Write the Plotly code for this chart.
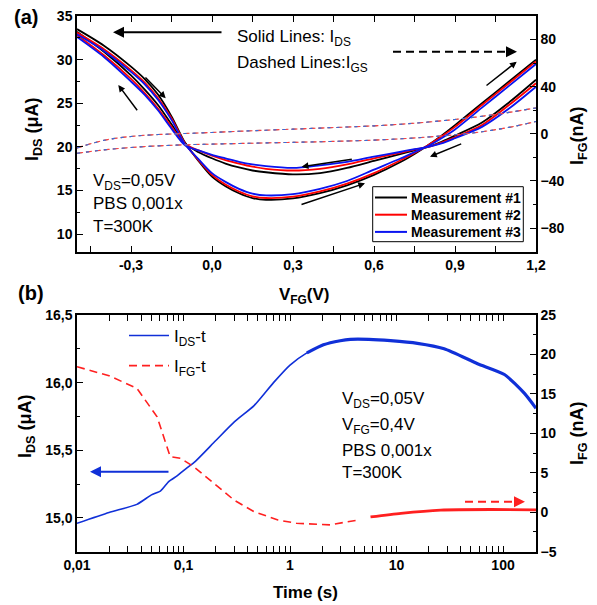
import numpy as np
import plotly.graph_objects as go

FONT = "Liberation Sans, Arial, sans-serif"
W, H = 597, 605

# ---------------- (a) transfer curves ----------------
v_fg = [-0.5, -0.4, -0.3, -0.25, -0.2, -0.15, -0.1, -0.05, 0.0, 0.05, 0.1, 0.15, 0.2,
        0.3, 0.4, 0.5, 0.6, 0.7, 0.75, 0.8, 0.85, 0.9, 1.0, 1.1, 1.2]

# I_DS (uA), forward sweep (-0.5 -> 1.2 V)
ids_fwd_m1 = [33.5, 31.6, 29.2, 27.8, 26.0, 23.5, 20.5, 18.4, 16.6, 15.5, 14.7, 14.15, 13.95,
              14.1, 14.7, 15.6, 16.8, 18.3, 19.2, 20.2, 21.3, 22.5, 25.0, 27.5, 30.0]
ids_fwd_m2 = [33.1, 31.2, 28.8, 27.4, 25.6, 23.3, 20.4, 18.5, 16.8, 15.7, 14.9, 14.35, 14.15,
              14.3, 14.9, 15.8, 17.0, 18.5, 19.3, 20.2, 21.2, 22.3, 24.8, 27.3, 29.8]
ids_fwd_m3 = [32.9, 31.0, 28.6, 27.2, 25.4, 23.1, 20.3, 18.6, 17.0, 16.0, 15.2, 14.65, 14.45,
              14.6, 15.2, 16.1, 17.4, 18.7, 19.4, 20.1, 21.0, 22.0, 24.5, 27.0, 29.5]
# I_DS (uA), backward sweep (1.2 -> -0.5 V), listed on the same V grid
ids_bwd_m1 = [33.2, 30.9, 28.2, 26.6, 24.8, 22.6, 20.4, 19.4, 18.7, 18.1, 17.65, 17.3, 17.1,
              16.85, 17.0, 17.6, 18.4, 19.2, 19.6, 20.0, 20.6, 21.3, 22.8, 25.1, 27.7]
ids_bwd_m2 = [32.8, 30.5, 27.8, 26.2, 24.4, 22.3, 20.3, 19.6, 19.0, 18.5, 18.1, 17.75, 17.5,
              17.3, 17.5, 18.0, 18.7, 19.35, 19.7, 20.0, 20.5, 21.1, 22.5, 24.8, 27.3]
ids_bwd_m3 = [32.6, 30.3, 27.5, 26.0, 24.2, 22.1, 20.2, 19.6, 19.1, 18.7, 18.3, 18.0, 17.8,
              17.6, 17.9, 18.3, 18.9, 19.45, 19.75, 20.0, 20.4, 21.0, 22.3, 24.4, 26.9]

# gate leakage I_GS (nA), two sweep branches
v_gs = [-0.5, -0.4, -0.3, -0.2, -0.1, 0.0, 0.1, 0.2, 0.3, 0.4, 0.5, 0.6, 0.7, 0.8, 0.9, 1.0, 1.1, 1.2]
igs_upper = [-12.0, -5.5, -2.2, -0.6, 0.3, 1.2, 2.2, 3.1, 4.0, 4.9, 5.8, 6.8, 8.2, 10.0, 12.2, 14.9, 18.2, 22.0]
igs_lower = [-16.5, -13.6, -11.6, -10.2, -9.3, -8.7, -8.2, -7.7, -7.2, -6.7, -6.1, -5.3, -4.2, -2.7, -0.8, 1.8, 5.5, 10.5]

meas_names = ["Measurement #1", "Measurement #2", "Measurement #3"]
meas_colors = ["#000000", "#ff0000", "#0a14f0"]

# ---------------- (b) time response ----------------
t_ids = [0.01, 0.02, 0.0365, 0.05, 0.061, 0.073, 0.087, 0.1, 0.13, 0.2, 0.3, 0.46, 0.7, 1.0,
         1.44, 2.06, 2.96, 3.68, 5.5, 8.78, 15.7, 28.0, 57.6, 103, 159, 204]
ids_t = [14.96, 15.04, 15.10, 15.17, 15.20, 15.27, 15.31, 15.35, 15.42, 15.57, 15.71, 15.83, 16.0, 16.13,
         16.22, 16.28, 16.31, 16.32, 16.32, 16.31, 16.29, 16.25, 16.14, 16.06, 15.92, 15.81]

t_ifg = [0.01, 0.02, 0.0365, 0.0565, 0.075, 0.094, 0.125, 0.193, 0.298, 0.46, 0.77, 1.15, 2.38, 4.27,
         5.7, 11, 26, 77, 204]
ifg_t = [18.45, 17.3, 15.71, 12.1, 7.04, 6.83, 5.77, 3.67, 1.55, 0.07, -0.98, -1.4, -1.6, -1.0,
         -0.6, -0.13, 0.28, 0.35, 0.3]

fig = go.Figure()

# dashed gate-current curves (right axis of panel a)
for col, dash in [("#8a8a8a", "5px,4px"), ("#ff4040", "6px,3px"), ("#3070e0", "3px,6px")]:
    for branch in (igs_upper, igs_lower):
        fig.add_trace(go.Scatter(x=v_gs, y=branch, xaxis="x", yaxis="y2", mode="lines",
                                 line=dict(color=col, width=1.1, dash=dash, shape="spline"),
                                 showlegend=False, hoverinfo="skip"))

fwd = [ids_fwd_m1, ids_fwd_m2, ids_fwd_m3]
bwd = [ids_bwd_m1, ids_bwd_m2, ids_bwd_m3]
for name, col, f, b in zip(meas_names, meas_colors, fwd, bwd):
    fig.add_trace(go.Scatter(x=v_fg, y=f, xaxis="x", yaxis="y", mode="lines", name=name,
                             legendgroup=name, showlegend=False,
                             line=dict(color=col, width=1.8, shape="spline", smoothing=0.8)))
    fig.add_trace(go.Scatter(x=v_fg[::-1], y=b[::-1], xaxis="x", yaxis="y", mode="lines",
                             legendgroup=name, showlegend=False,
                             line=dict(color=col, width=1.8, shape="spline", smoothing=0.8)))

# panel b
BLUE_B = "#1030d8"
RED_B = "#ff2020"
split_ids = 15  # from ~2 s the record is denser and reads as a heavier line
fig.add_trace(go.Scatter(x=t_ids[:split_ids + 1], y=ids_t[:split_ids + 1], xaxis="x2", yaxis="y3",
                         mode="lines", name="I<sub>DS</sub>-t", legend="legend2", legendgroup="ids",
                         line=dict(color=BLUE_B, width=1.6, shape="spline", smoothing=0.6)))
fig.add_trace(go.Scatter(x=t_ids[split_ids - 1:], y=ids_t[split_ids - 1:], xaxis="x2", yaxis="y3",
                         mode="lines", showlegend=False, legendgroup="ids",
                         line=dict(color=BLUE_B, width=3.2, shape="spline", smoothing=0.6)))
split_ifg = 14
fig.add_trace(go.Scatter(x=t_ifg[:split_ifg], y=ifg_t[:split_ifg], xaxis="x2", yaxis="y4",
                         mode="lines", name="I<sub>FG</sub>-t", legend="legend2", legendgroup="ifg",
                         line=dict(color=RED_B, width=1.6, dash="8px,5px")))
fig.add_trace(go.Scatter(x=t_ifg[split_ifg:], y=ifg_t[split_ifg:], xaxis="x2", yaxis="y4",
                         mode="lines", showlegend=False, legendgroup="ifg",
                         line=dict(color=RED_B, width=2.8, shape="spline", smoothing=0.6)))

tickfont = dict(family=FONT, size=14, color="black", weight="bold")
axis_common = dict(showline=True, linecolor="black", linewidth=1.5, ticks="inside", ticklen=6,
                   tickwidth=1.3, tickcolor="black", showgrid=False, zeroline=False, tickfont=tickfont,
                   automargin=False)
minor_common = dict(ticks="inside", ticklen=3, tickwidth=1.2, tickcolor="black", showgrid=False)

XD = [77 / W, 536 / W]
YD_A = [1 - 251.7 / H, 1 - 16 / H]
YD_B = [1 - 551.7 / H, 1 - 315 / H]

decades = [0.01, 0.1, 1, 10, 100]
minor_log = [m * d for d in decades for m in range(2, 10) if m * d <= 204]

fig.update_layout(
    width=W, height=H, margin=dict(l=0, r=0, t=0, b=0, pad=0, autoexpand=False),
    paper_bgcolor="white", plot_bgcolor="white",
    font=dict(family=FONT, color="black"),
    xaxis=dict(domain=XD, anchor="y", range=[-0.5, 1.2], mirror="allticks",
               tickvals=[-0.3, 0.0, 0.3, 0.6, 0.9, 1.2],
               ticktext=["-0,3", "0,0", "0,3", "0,6", "0,9", "1,2"],
               minor=dict(tickvals=[-0.45, -0.15, 0.15, 0.45, 0.75, 1.05], **minor_common),
               **axis_common),
    yaxis=dict(domain=YD_A, anchor="x", range=[8, 35], tickvals=[10, 15, 20, 25, 30, 35],
               minor=dict(tickvals=[12.5, 17.5, 22.5, 27.5, 32.5], **minor_common),
               **axis_common),
    yaxis2=dict(overlaying="y", anchor="x", side="right", range=[-100, 100],
                tickvals=[-80, -40, 0, 40, 80],
                minor=dict(tickvals=[-100, -60, -20, 20, 60, 100], **minor_common),
                **axis_common),
    xaxis2=dict(domain=XD, anchor="y3", type="log", range=[-2, np.log10(204)], mirror="allticks",
                tickvals=decades, ticktext=["0,01", "0,1", "1", "10", "100"],
                minor=dict(tickvals=minor_log, **minor_common),
                **axis_common),
    yaxis3=dict(domain=YD_B, anchor="x2", range=[14.75, 16.5],
                tickvals=[15.0, 15.5, 16.0, 16.5], ticktext=["15,0", "15,5", "16,0", "16,5"],
                minor=dict(tickvals=[14.75, 15.25, 15.75, 16.25], **minor_common),
                **axis_common),
    yaxis4=dict(overlaying="y3", anchor="x2", side="right", range=[-5, 25],
                tickvals=[-5, 0, 5, 10, 15, 20, 25],
                minor=dict(tickvals=[-2.5, 2.5, 7.5, 12.5, 17.5, 22.5], **minor_common),
                **axis_common),
    legend2=dict(x=124 / W, y=1 - 318 / H, xanchor="left", yanchor="top",
                 bgcolor="rgba(0,0,0,0)", borderwidth=0,
                 font=dict(family=FONT, size=17, color="black"),
                 traceorder="grouped", tracegroupgap=5, itemwidth=40),
)

ann = []
shapes = []


def text(px, py, s, size=17, bold=False, xanchor="left", angle=0):
    ann.append(dict(x=px / W, y=1 - py / H, xref="paper", yref="paper", text=s, showarrow=False,
                    xanchor=xanchor, yanchor="middle", textangle=angle,
                    font=dict(family=FONT, size=size, color="black",
                              weight="bold" if bold else "normal")))


def arrow(head, tail, color="black", width=1.6, size=1.0):
    ann.append(dict(x=head[0] / W, y=1 - head[1] / H, xref="paper", yref="paper",
                    ax=tail[0] - head[0], ay=tail[1] - head[1], axref="pixel", ayref="pixel",
                    text="", showarrow=True, arrowhead=2, arrowsize=size, arrowwidth=width,
                    arrowcolor=color, standoff=0, startstandoff=0))


def seg(p0, p1, color, width, dash="solid"):
    shapes.append(dict(type="line", xref="paper", yref="paper",
                       x0=p0[0] / W, y0=1 - p0[1] / H, x1=p1[0] / W, y1=1 - p1[1] / H,
                       line=dict(color=color, width=width, dash=dash)))


# panel labels and notes
text(12, 17, "(a)", size=20, bold=True)
text(16, 293, "(b)", size=20, bold=True)
text(235, 38, "Solid Lines: I<sub>DS</sub>")
text(235, 64, "Dashed Lines:I<sub>GS</sub>")
text(91, 182, "V<sub>DS</sub>=0,05V")
text(91, 203, "PBS 0,001x")
text(91, 226, "T=300K")
text(340, 400, "V<sub>DS</sub>=0,05V")
text(340, 426, "V<sub>FG</sub>=0,4V")
text(340, 450, "PBS 0,001x")
text(340, 472, "T=300K")

# axis titles
text(304, 296, "V<sub>FG</sub>(V)", size=17, bold=True, xanchor="center")
text(305, 592, "Time (s)", size=17, bold=True, xanchor="center")
text(33, 129, "I<sub>DS</sub> (\u03bcA)", size=18, bold=True, xanchor="center", angle=-90)
text(578, 136, "I<sub>FG</sub>(nA)", size=18, bold=True, xanchor="center", angle=-90)
text(26, 426, "I<sub>DS</sub> (\u03bcA)", size=18, bold=True, xanchor="center", angle=-90)
text(578, 433, "I<sub>FG</sub> (nA)", size=18, bold=True, xanchor="center", angle=-90)

# boxed key for the three measurements of panel a
shapes.append(dict(type="rect", xref="paper", yref="paper", x0=372.7 / W, x1=523.3 / W,
                   y0=1 - 241.7 / H, y1=1 - 186.7 / H, fillcolor="white",
                   line=dict(color="black", width=1), layer="above"))
for i, (name, col) in enumerate(zip(meas_names, meas_colors)):
    ry = 197.5 + i * 17.2
    seg((375, ry), (407, ry), col, 2)
    text(409, ry, name, size=14, bold=True)

# sweep-direction arrows, panel a
arrow((113, 32.3), (223, 32.3), width=2.0, size=1.1)
arrow((165.7, 98.3), (144, 76), width=1.5, size=0.9)
arrow((118.3, 85), (138.3, 111.7), width=1.5, size=0.9)
arrow((301.7, 166.7), (353.3, 159), width=1.5, size=0.9)
arrow((365, 183.3), (300, 205), width=1.5, size=0.9)
arrow((516.7, 61.7), (485, 86.7), width=1.5, size=0.9)
arrow((430, 156.7), (462.7, 143.3), width=1.5, size=0.9)
arrow((517, 51.7), (505, 51.7), width=2.0, size=1.1)
# axis-pointer arrows, panel b
arrow((90, 471.7), (170, 471.7), color=BLUE_B, width=2.0, size=1.1)
arrow((525, 501.7), (513, 501.7), color=RED_B, width=2.0, size=1.1)

# dashed shafts
seg((393, 51.7), (507, 51.7), "black", 2, "8px,5px")
seg((465, 501.7), (515, 501.7), RED_B, 2, "8px,5px")

fig.update_layout(annotations=ann, shapes=shapes)

# the page body gets no default margin so the figure fills the window exactly
fig.write_html("out.html", post_script="document.body.style.margin='0px';")
